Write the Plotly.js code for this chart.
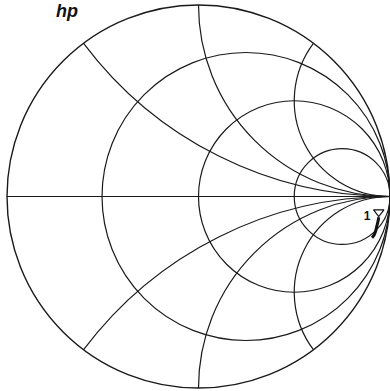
<!DOCTYPE html>
<html>
<head>
<meta charset="utf-8">
<script src="https://cdn.plot.ly/plotly-3.0.1.min.js"></script>
<style>
  html, body { margin: 0; padding: 0; background: #fff; }
  #chart { width: 390px; height: 391px; }
</style>
</head>
<body>
<div id="chart"></div>
<script>
// Normalised impedance of the measured sweep (resistance, reactance)
const sweepR = [6.8, 4.8, 3.6, 2.9, 2.5, 2.4];
const sweepX = [-14.3, -12.2, -10.5, -9.4, -8.5, -7.8];

// Graticule: constant-resistance circles and constant-reactance arcs (both halves)
const resistanceCircles = [0.33, 1, 3];
const reactanceArcs = [-2, -1, -0.5, 0.5, 1, 2];

// Marker 1 sits on the first sweep point
const markerLabel = '1';
const markerIndex = 0;

const gridColor = '#1a1a1a';

const traces = [
  {
    type: 'scattersmith',
    real: sweepR,
    imag: sweepX,
    mode: 'lines',
    line: { color: '#111', width: 3, shape: 'spline' },
    hoverinfo: 'skip'
  },
  {
    // open triangle pointing down onto the marked point
    type: 'scattersmith',
    real: [sweepR[markerIndex]],
    imag: [sweepX[markerIndex]],
    mode: 'markers',
    marker: {
      symbol: 'triangle-up-open',
      size: 9,
      color: '#111',
      line: { width: 1.2, color: '#111' },
      angle: 180,
      standoff: 5
    },
    hoverinfo: 'skip'
  },
  {
    // marker number to the left of the triangle
    type: 'scattersmith',
    real: [sweepR[markerIndex]],
    imag: [sweepX[markerIndex]],
    mode: 'text',
    text: [markerLabel + '\u2002\u2009'],
    textposition: 'middle left',
    textfont: { family: 'Liberation Sans', size: 12, color: '#111', weight: 'bold' },
    hoverinfo: 'skip'
  }
];

const layout = {
  width: 390,
  height: 391,
  margin: { l: 7, r: 0, t: 5, b: 3 },
  paper_bgcolor: '#fff',
  showlegend: false,
  smith: {
    bgcolor: '#fff',
    realaxis: {
      tickvals: resistanceCircles,
      showticklabels: false,
      ticks: '',
      showgrid: true,
      gridcolor: gridColor,
      gridwidth: 1.2,
      showline: true,
      linecolor: gridColor,
      linewidth: 1.2
    },
    imaginaryaxis: {
      tickvals: reactanceArcs,
      showticklabels: false,
      ticks: '',
      showgrid: true,
      gridcolor: gridColor,
      gridwidth: 1.2,
      showline: true,
      linecolor: gridColor,
      linewidth: 1.4
    }
  },
  annotations: [
    {
      text: '<b><i>hp</i></b>',
      xref: 'paper', yref: 'paper',
      x: 0.157, y: 1.0,
      xanchor: 'center', yanchor: 'top',
      yshift: 5,
      borderpad: 0,
      showarrow: false,
      font: { family: 'Liberation Sans', size: 18, color: '#111' }
    }
  ]
};

Plotly.newPlot('chart', traces, layout, { staticPlot: true, displayModeBar: false });
</script>
</body>
</html>
